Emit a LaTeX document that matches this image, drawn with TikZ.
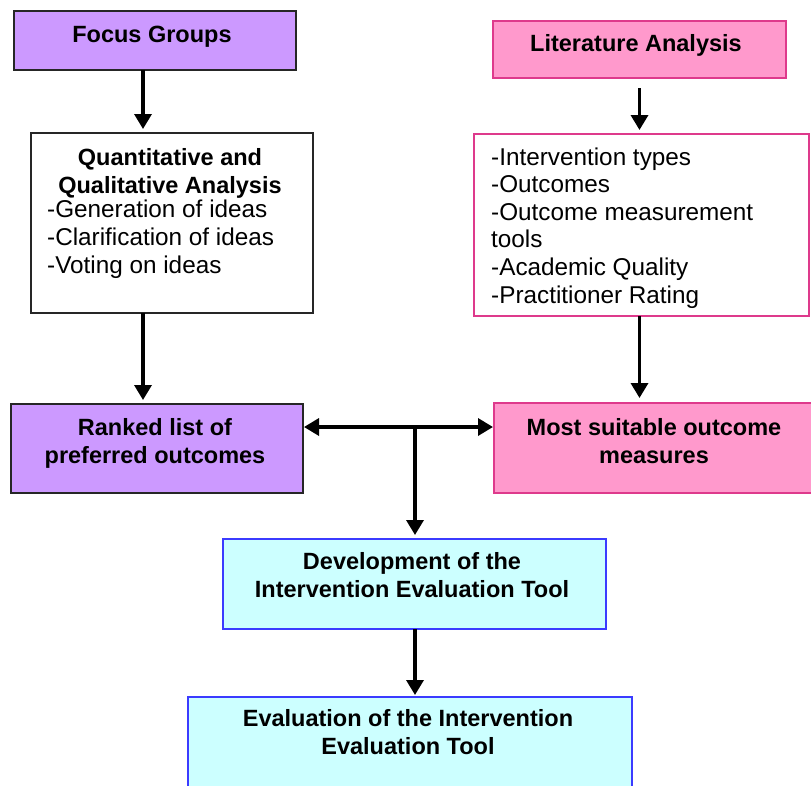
\documentclass[tikz,border=0pt]{standalone}
\usepackage{fontspec}
\setmainfont{Liberation Sans}
\usetikzlibrary{arrows.meta,calc}
\definecolor{purp}{HTML}{CC99FF}
\definecolor{pinkf}{HTML}{FF99CC}
\definecolor{pinkd}{HTML}{DE3A8C}
\definecolor{cyanf}{HTML}{CCFFFF}
\definecolor{blued}{HTML}{3B3BFF}
\definecolor{darkb}{HTML}{262626}
\tikzset{
  box/.style={draw, line width=1.6pt, inner sep=0pt, outer sep=0pt, anchor=north west},
  purpbox/.style={box, draw=darkb, fill=purp},
  pinkbox/.style={box, draw=pinkd, fill=pinkf},
  listbox/.style={box, draw=pinkd, fill=white},
  whitebox/.style={box, draw=darkb, fill=white},
  cyanbox/.style={box, draw=blued, fill=cyanf},
  btxt/.style={font=\fontsize{23.5}{27.5}\selectfont\bfseries, align=center, anchor=base, inner sep=0pt},
  ltxt/.style={font=\fontsize{24.3}{27.6}\selectfont, align=left, anchor=base west, inner sep=0pt},
  arr/.style={line width=3.4pt, -{Triangle[width=17pt,length=15pt]}},
  darr/.style={line width=3.4pt, {Triangle[width=17pt,length=15pt]}-{Triangle[width=17pt,length=15pt]}},
}
\begin{document}
\begin{tikzpicture}[x=1pt,y=-1pt]
\useasboundingbox (0,0) rectangle (811,785);
\clip (0,0) rectangle (811,785);
% boxes
\node[purpbox, minimum width=282pt, minimum height=59pt] (fg) at (14,11) {};
\node[pinkbox, minimum width=293pt, minimum height=57pt] (lit) at (493,21) {};
\node[whitebox, minimum width=282pt, minimum height=180pt] (quant) at (31,133) {};
\node[listbox, minimum width=335pt, minimum height=182pt] (list) at (474,134) {};
\node[purpbox, minimum width=292pt, minimum height=89pt] (ranked) at (11,404) {};
\node[pinkbox, minimum width=325pt, minimum height=90pt] (most) at (494,403) {};
\node[cyanbox, minimum width=383pt, minimum height=90pt] (dev) at (223,539) {};
\node[cyanbox, minimum width=444pt, minimum height=110pt] (eval) at (188,697) {};
% texts (base = last line)
\node[btxt] (tfg) at (152,42) {Focus Groups};
\node[btxt] (tlit) at (636,51) {Literature Analysis};
\node[btxt] (tquant) at (170,193) {Quantitative and\\Qualitative Analysis};
\node[ltxt] (lquant) at (47,273) {-Generation of ideas\\-Clarification of ideas\\-Voting on ideas};
\node[ltxt] (llist) at (491,303) {-Intervention types\\-Outcomes\\-Outcome measurement\\tools\\-Academic Quality\\-Practitioner Rating};
\node[btxt] (tranked) at (155,463) {Ranked list of\\preferred outcomes};
\node[btxt] (tmost) at (654,463) {Most suitable outcome\\measures};
\node[btxt] (tdev) at (412,597) {Development of the\\Intervention Evaluation Tool};
\node[btxt] (teval) at (408,754) {Evaluation of the Intervention\\Evaluation Tool};
% connectors
\draw[arr, shorten >=4pt] ([xshift=-12pt]fg.south) -- ([xshift=-29pt]quant.north);
\draw[arr, shorten >=4pt] ([xshift=-29pt]quant.south) -- ([xshift=-14pt]ranked.north);
\draw[arr, shorten <=10pt, shorten >=4pt] (lit.south) -- (lit.south |- list.north);
\draw[arr, shorten >=5pt] (list.south -| lit.south) -- (lit.south |- most.north);
\coordinate (j) at (415,427);
\draw[darr, shorten <=1pt, shorten >=1pt] (ranked.east |- j) -- (most.west |- j);
\draw[arr, shorten >=4pt] (j) -- (dev.north -| j);
\draw[arr, shorten >=2pt] (dev.south -| j) -- (eval.north -| j);
\end{tikzpicture}
\end{document}
